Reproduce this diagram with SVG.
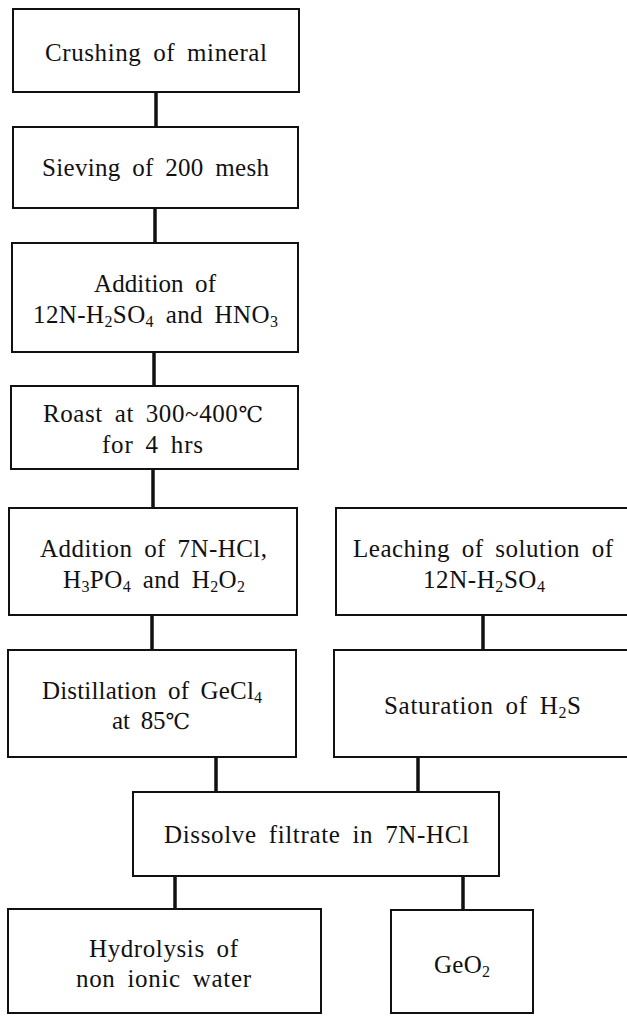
<svg xmlns="http://www.w3.org/2000/svg" width="627" height="1017" viewBox="0 0 627 1017">
<style>
.box{fill:#fff;stroke:#111;stroke-width:2}
text{font-family:'Liberation Serif','DejaVu Serif',serif;font-size:25px;fill:#111;word-spacing:5px}
.s{font-size:16px}
.dg{font-family:'DejaVu Serif','Liberation Serif',serif;font-size:22px}
.c{stroke:#111;stroke-width:3.5;fill:none}
</style>
<rect width="627" height="1017" fill="#fff"/>
<g id="connectors">
<line class="c" x1="156" y1="92" x2="156" y2="127"/>
<line class="c" x1="155" y1="208" x2="155" y2="243"/>
<line class="c" x1="154" y1="352" x2="154" y2="386"/>
<line class="c" x1="153" y1="469" x2="153" y2="508"/>
<line class="c" x1="152" y1="615" x2="152" y2="650"/>
<line class="c" x1="483" y1="615" x2="483" y2="650"/>
<line class="c" x1="216" y1="757" x2="216" y2="792"/>
<line class="c" x1="418" y1="757" x2="418" y2="792"/>
<line class="c" x1="175" y1="876" x2="175" y2="909"/>
<line class="c" x1="463" y1="876" x2="463" y2="910"/>
</g>
<g id="n1">
<rect class="box" x="13" y="9" width="286" height="83"/>
<text x="45" y="61" textLength="222">Crushing of mineral</text>
</g>
<g id="n2">
<rect class="box" x="13" y="127" width="285" height="81"/>
<text x="42" y="176" textLength="227">Sieving of 200 mesh</text>
</g>
<g id="n3">
<rect class="box" x="12" y="243" width="286" height="109"/>
<text x="94" y="292" textLength="122">Addition of</text>
<text x="33" y="323" textLength="245">12N-H<tspan class="s" dy="4">2</tspan><tspan dy="-4">SO</tspan><tspan class="s" dy="4">4</tspan><tspan dy="-4"> and HNO</tspan><tspan class="s" dy="4">3</tspan></text>
</g>
<g id="n4">
<rect class="box" x="11" y="386" width="287" height="83"/>
<text x="43" y="422" textLength="220">Roast at 300~400<tspan class="dg">℃</tspan></text>
<text x="102" y="453" textLength="101">for 4 hrs</text>
</g>
<g id="n5">
<rect class="box" x="9" y="508" width="288" height="107"/>
<text x="40" y="557" textLength="227">Addition of 7N-HCl,</text>
<text x="63" y="588" textLength="182">H<tspan class="s" dy="4">3</tspan><tspan dy="-4">PO</tspan><tspan class="s" dy="4">4</tspan><tspan dy="-4"> and H</tspan><tspan class="s" dy="4">2</tspan><tspan dy="-4">O</tspan><tspan class="s" dy="4">2</tspan></text>
</g>
<g id="n6">
<rect class="box" x="336" y="508" width="300" height="107"/>
<text x="353" y="557" textLength="260">Leaching of solution of</text>
<text x="423" y="588" textLength="122">12N-H<tspan class="s" dy="4">2</tspan><tspan dy="-4">SO</tspan><tspan class="s" dy="4">4</tspan></text>
</g>
<g id="n7">
<rect class="box" x="8" y="650" width="288" height="107"/>
<text x="42" y="699" textLength="220">Distillation of GeCl<tspan class="s" dy="4">4</tspan></text>
<text x="112" y="729" textLength="78">at 85<tspan class="dg">℃</tspan></text>
</g>
<g id="n8">
<rect class="box" x="334" y="650" width="302" height="107"/>
<text x="384" y="714" textLength="197">Saturation of H<tspan class="s" dy="4">2</tspan><tspan dy="-4">S</tspan></text>
</g>
<g id="n9">
<rect class="box" x="133" y="792" width="366" height="84"/>
<text x="164" y="843" textLength="305">Dissolve filtrate in 7N-HCl</text>
</g>
<g id="n10">
<rect class="box" x="8" y="909" width="313" height="104"/>
<text x="89" y="957" textLength="149">Hydrolysis of</text>
<text x="76" y="987" textLength="175">non ionic water</text>
</g>
<g id="n11">
<rect class="box" x="391" y="910" width="142" height="103"/>
<text x="434" y="973" textLength="56">GeO<tspan class="s" dy="4">2</tspan></text>
</g>
</svg>
